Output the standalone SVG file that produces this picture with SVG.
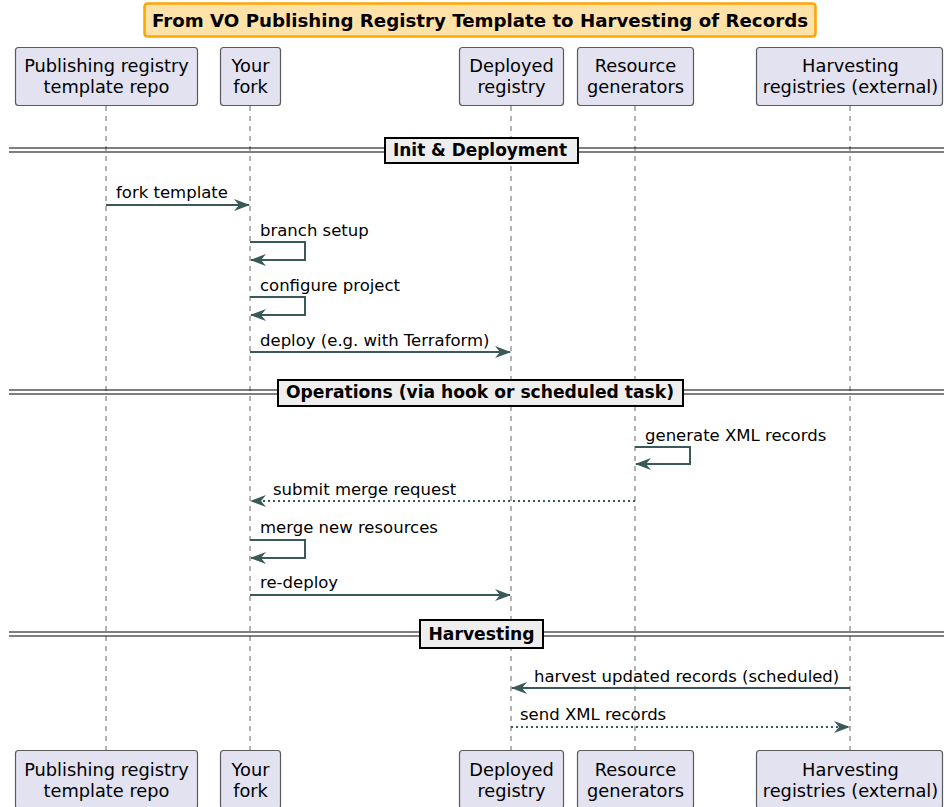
<svg xmlns="http://www.w3.org/2000/svg" width="944" height="807" viewBox="0 0 944 807">
<style>
text{font-family:"DejaVu Sans","Liberation Sans",sans-serif;fill:#000}
.p rect{fill:#e2e2f0;stroke:#5a5a5a;stroke-width:1.2}
.p text{font-size:17.8px;text-anchor:middle}
.life{stroke:#666;stroke-width:1;stroke-dasharray:5,5;fill:none}
.m{stroke:#3a5a5a;stroke-width:2;fill:none;marker-end:url(#ah)}
.d{stroke-dasharray:2,3}
.lbl{font-size:16.5px}
.div line{stroke:#000;stroke-width:1.2}
.div rect{fill:#eeeeee;stroke:#000;stroke-width:2}
.div text{font-size:16.8px;font-weight:bold;text-anchor:middle}
</style>
<defs>
<marker id="ah" viewBox="0 0 16 12" refX="15" refY="6" markerWidth="16" markerHeight="12" markerUnits="userSpaceOnUse" orient="auto">
<path d="M0,0 L16,6 L0,12 L5,6 Z" fill="#3a5a5a"/>
</marker>
</defs>
<g id="title">
<rect x="144.5" y="3.5" width="671" height="33" rx="3" fill="#ffe2a8" stroke="#ffa500" stroke-width="2.5"/>
<text x="480" y="26.5" font-size="17.5" font-weight="bold" text-anchor="middle" textLength="656" lengthAdjust="spacingAndGlyphs">From VO Publishing Registry Template to Harvesting of Records</text>
</g>
<g id="lifelines">
<line class="life" x1="106" y1="106" x2="106" y2="750"/>
<line class="life" x1="250" y1="106" x2="250" y2="750"/>
<line class="life" x1="511" y1="106" x2="511" y2="750"/>
<line class="life" x1="635" y1="106" x2="635" y2="750"/>
<line class="life" x1="850" y1="106" x2="850" y2="750"/>
</g>
<g id="p-template" class="p">
<rect x="15.5" y="47.5" width="182" height="58" rx="3"/>
<text x="106.5" y="72">Publishing registry</text>
<text x="106.5" y="93">template repo</text>
<rect x="15.5" y="750.5" width="182" height="58" rx="3"/>
<text x="106.5" y="776">Publishing registry</text>
<text x="106.5" y="797">template repo</text>
</g>
<g id="p-fork" class="p">
<rect x="220.5" y="47.5" width="60" height="58" rx="3"/>
<text x="250.5" y="72">Your</text>
<text x="250.5" y="93">fork</text>
<rect x="220.5" y="750.5" width="60" height="58" rx="3"/>
<text x="250.5" y="776">Your</text>
<text x="250.5" y="797">fork</text>
</g>
<g id="p-deployed" class="p">
<rect x="459.5" y="47.5" width="104" height="58" rx="3"/>
<text x="511.5" y="72">Deployed</text>
<text x="511.5" y="93">registry</text>
<rect x="459.5" y="750.5" width="104" height="58" rx="3"/>
<text x="511.5" y="776">Deployed</text>
<text x="511.5" y="797">registry</text>
</g>
<g id="p-generators" class="p">
<rect x="577.5" y="47.5" width="116" height="58" rx="3"/>
<text x="635.5" y="72">Resource</text>
<text x="635.5" y="93">generators</text>
<rect x="577.5" y="750.5" width="116" height="58" rx="3"/>
<text x="635.5" y="776">Resource</text>
<text x="635.5" y="797">generators</text>
</g>
<g id="p-harvesting" class="p">
<rect x="756.5" y="47.5" width="186" height="58" rx="3"/>
<text x="850.5" y="72">Harvesting</text>
<text x="850.5" y="93">registries (external)</text>
<rect x="756.5" y="750.5" width="186" height="58" rx="3"/>
<text x="850.5" y="776">Harvesting</text>
<text x="850.5" y="797">registries (external)</text>
</g>
<g id="div-init" class="div">
<line x1="9" y1="148" x2="944" y2="148"/>
<line x1="9" y1="152" x2="944" y2="152"/>
<rect x="385" y="138" width="193" height="25"/>
<text x="480" y="156" textLength="174" lengthAdjust="spacingAndGlyphs">Init &amp; Deployment</text>
</g>
<g id="div-ops" class="div">
<line x1="9" y1="390" x2="944" y2="390"/>
<line x1="9" y1="394" x2="944" y2="394"/>
<rect x="278" y="380" width="405" height="26"/>
<text x="480" y="398" textLength="388" lengthAdjust="spacingAndGlyphs">Operations (via hook or scheduled task)</text>
</g>
<g id="div-harv" class="div">
<line x1="9" y1="632" x2="944" y2="632"/>
<line x1="9" y1="636" x2="944" y2="636"/>
<rect x="420" y="620" width="123" height="28"/>
<text x="481.5" y="640" textLength="106" lengthAdjust="spacingAndGlyphs">Harvesting</text>
</g>
<g id="connectors">
<path class="m" d="M106,205 H249"/>
<text class="lbl" x="116" y="198">fork template</text>
<path class="m" d="M250,242 H305 V260 H251"/>
<text class="lbl" x="260" y="236">branch setup</text>
<path class="m" d="M250,297 H305 V315 H251"/>
<text class="lbl" x="260" y="291">configure project</text>
<path class="m" d="M250,352 H510"/>
<text class="lbl" x="260" y="346">deploy (e.g. with Terraform)</text>
<path class="m" d="M635,447 H690 V464 H636"/>
<text class="lbl" x="645" y="441">generate XML records</text>
<path class="m d" d="M635,501 H251"/>
<text class="lbl" x="273" y="495">submit merge request</text>
<path class="m" d="M250,540 H305 V558 H251"/>
<text class="lbl" x="260" y="533">merge new resources</text>
<path class="m" d="M250,595 H510"/>
<text class="lbl" x="260" y="588">re-deploy</text>
<path class="m" d="M850,688 H512"/>
<text class="lbl" x="534" y="682">harvest updated records (scheduled)</text>
<path class="m d" d="M511,727 H849"/>
<text class="lbl" x="520" y="720">send XML records</text>
</g>
</svg>
